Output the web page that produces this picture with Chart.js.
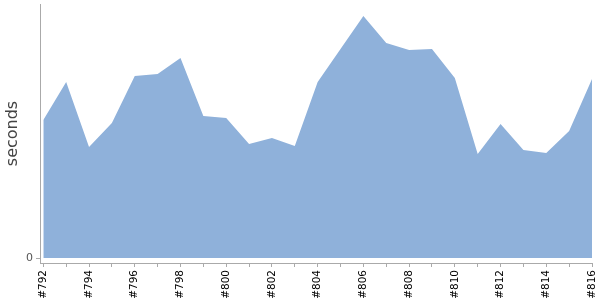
<!DOCTYPE html>
<html>
<head>
<meta charset="utf-8">
<script src="https://cdn.jsdelivr.net/npm/chart.js@4/dist/chart.umd.min.js"></script>
<style>
  html, body { margin: 0; padding: 0; background: #fff; }
  #wrap { width: 600px; height: 300px; position: relative; }
</style>
</head>
<body>
<div id="wrap"><canvas id="c" width="600" height="300"></canvas></div>
<script>
const categories = ['#792','#793','#794','#795','#796','#797','#798','#799','#800','#801','#802','#803','#804','#805','#806','#807','#808','#809','#810','#811','#812','#813','#814','#815','#816'];
const durations = [138, 176, 111, 135, 182, 184, 200, 142, 140, 114, 120, 112, 176, 209, 242, 215, 208, 209, 180, 104, 134, 108, 105, 127, 179];
const yTickValues = [0];

const points = categories.map((c, i) => ({ x: i, y: durations[i] }));

new Chart(document.getElementById('c'), {
  type: 'line',
  data: {
    datasets: [{
      data: points,
      fill: 'origin',
      backgroundColor: 'rgb(143,177,218)',
      borderColor: 'rgb(143,177,218)',
      borderWidth: 0,
      pointRadius: 0,
      tension: 0
    }]
  },
  options: {
    responsive: false,
    animation: false,
    layout: { padding: { top: 4, right: 8, left: 0, bottom: 0 } },
    plugins: { legend: { display: false }, tooltip: { enabled: false } },
    scales: {
      x: {
        type: 'linear',
        min: -0.145,
        max: categories.length - 1,
        afterBuildTicks: s => { s.ticks = categories.map((c, i) => ({ value: i })); },
        afterFit: s => { s.height = 37; s.paddingLeft = 0; s.paddingRight = 0; },
        border: { display: true, color: '#aaa', width: 1 },
        grid: { display: true, drawOnChartArea: false, drawTicks: true, tickLength: 4, color: '#aaa' },
        ticks: {
          autoSkip: false,
          minRotation: 90,
          maxRotation: 90,
          padding: 3,
          color: '#000',
          font: { family: 'DejaVu Sans', size: 10.5 },
          callback: v => (Number.isInteger(v) && v % 2 === 0) ? categories[v] : ''
        }
      },
      y: {
        min: -5,
        max: 254,
        afterBuildTicks: s => { s.ticks = yTickValues.map(v => ({ value: v })); },
        afterFit: s => { s.width = 40; s.paddingTop = 0; s.paddingBottom = 0; },
        border: { display: true, color: '#aaa', width: 1 },
        grid: { display: true, drawOnChartArea: false, drawTicks: true, tickLength: 4, color: '#aaa' },
        ticks: {
          padding: 3,
          color: '#555',
          font: { family: 'DejaVu Sans', size: 11 }
        },
        title: {
          display: true,
          text: 'seconds',
          color: '#444',
          padding: { top: 3, bottom: 0 },
          font: { family: 'DejaVu Sans', size: 16 }
        }
      }
    }
  }
});
</script>
</body>
</html>
